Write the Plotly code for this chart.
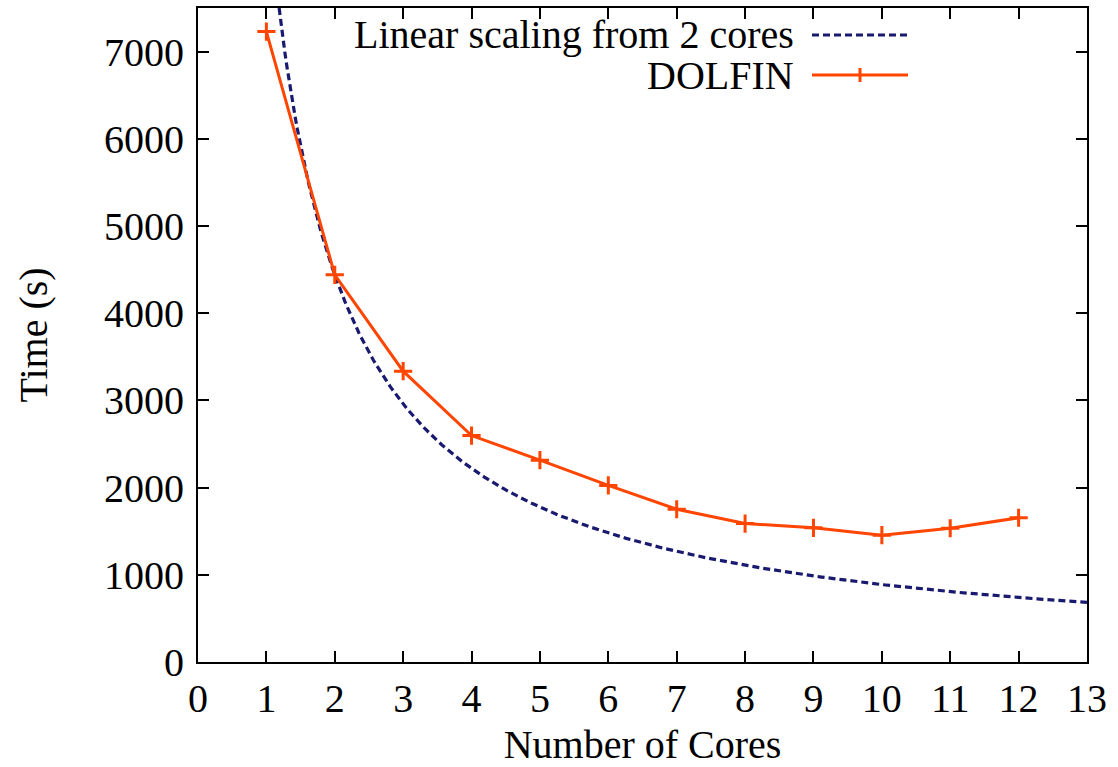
import numpy as np
import plotly.graph_objects as go

cores = [1, 2, 3, 4, 5, 6, 7, 8, 9, 10, 11, 12]
dolfin_time = [7230, 4440, 3335, 2597, 2315, 2025, 1752, 1588, 1539, 1454, 1534, 1654]
x_ticks = list(range(0, 14))
y_ticks = list(range(0, 8000, 1000))

# Linear scaling reference from the 2-core timing
base_cores = 2
base_time = dolfin_time[cores.index(base_cores)]
n_line = np.linspace(1.0, 13.0, 400)
lin_time = base_time * base_cores / n_line

FONT = "Liberation Serif"
FS = 40
ORANGE = "#ff4500"
NAVY = "#191970"
DASH = "7px,4px"

fig = go.Figure()
fig.add_trace(go.Scatter(x=n_line, y=lin_time, mode="lines",
                         line=dict(color=NAVY, width=3.2, dash=DASH),
                         showlegend=False, hoverinfo="skip"))
fig.add_trace(go.Scatter(x=cores, y=dolfin_time, mode="lines+markers",
                         line=dict(color=ORANGE, width=3),
                         marker=dict(symbol="cross-thin", size=13,
                                     line=dict(color=ORANGE, width=3)),
                         showlegend=False, cliponaxis=False))

axis_common = dict(showline=True, linecolor="black", linewidth=2, mirror="allticks",
                   ticks="inside", ticklen=11, tickwidth=1.5, tickcolor="black",
                   showgrid=False, zeroline=False, automargin=False,
                   tickfont=dict(family=FONT, size=FS, color="black"))
fig.update_xaxes(range=[0, 13], tickvals=x_ticks,
                 title=dict(text="Number of Cores", font=dict(family=FONT, size=FS, color="black"),
                            standoff=16),
                 **axis_common)
fig.update_yaxes(range=[0, 7500], tickvals=y_ticks, ticklabelstandoff=4,
                 title=dict(text="Time (s)", font=dict(family=FONT, size=FS, color="black"),
                            standoff=44),
                 **axis_common)

# Gnuplot-style legend (text right-aligned, sample on the right)
leg = [("Linear scaling from 2 cores", NAVY, "dash", 35, False),
       ("DOLFIN", ORANGE, "solid", 75, True)]
for label, col, dash, ypx, mark in leg:
    yp = 1 - (ypx - 8) / (662 - 8)
    fig.add_annotation(xref="paper", yref="paper", x=(795 - 198) / (1087 - 198), y=yp,
                       text=label, showarrow=False, xanchor="right", yanchor="middle",
                       borderpad=0,
                       font=dict(family=FONT, size=FS, color="black"))
    fig.add_shape(type="line", xref="paper", yref="paper",
                  x0=(812 - 198) / 889, x1=(908 - 198) / 889, y0=yp, y1=yp,
                  line=dict(color=col, width=3, dash=DASH if dash == "dash" else "solid"))
    if mark:
        fig.add_shape(type="line", xref="paper", yref="paper",
                      x0=(860 - 198) / 889, x1=(860 - 198) / 889,
                      y0=yp - 7 / 654, y1=yp + 7 / 654,
                      line=dict(color=col, width=3))

fig.update_layout(width=1118, height=767, plot_bgcolor="white", paper_bgcolor="white",
                  margin=dict(l=198, r=31, t=8, b=105),
                  font=dict(family=FONT, color="black"))
fig.write_html("out.html")
